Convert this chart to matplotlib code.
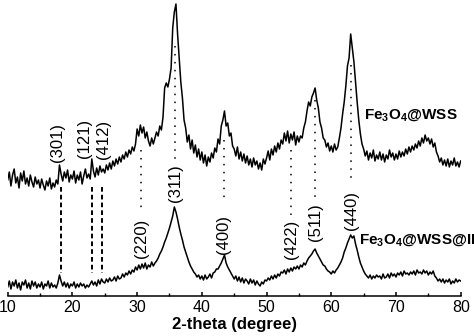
import matplotlib

matplotlib.use("Agg")
import matplotlib.pyplot as plt
import numpy as np

# 2-theta grid (degree), 0.25 step
two_theta = np.arange(10.0, 80.001, 0.25)

# intensities (arb. units), upper trace
fe3o4_wss = [
    116, 124, 110, 121, 127, 113, 119, 108, 123, 115,
    125, 112, 118, 110, 121, 114, 109, 119, 112, 116,
    108, 117, 111, 106, 115, 110, 118, 107, 113, 109,
    116, 112, 131, 122, 115, 124, 118, 126, 114, 121,
    117, 125, 113, 121, 116, 124, 112, 120, 127, 118,
    122, 117, 137, 125, 119, 128, 121, 130, 124, 127,
    123, 131, 126, 133, 127, 135, 130, 137, 132, 139,
    134, 141, 137, 144, 139, 146, 142, 149, 145, 152,
    167, 160, 171, 163, 169, 158, 164, 155, 150, 158,
    152, 158, 164, 160, 170, 166, 179, 208, 213, 209,
    217, 228, 268, 284, 292, 262, 238, 214, 198, 176,
    168, 154, 161, 147, 156, 143, 151, 139, 147, 136,
    144, 133, 141, 130, 139, 134, 143, 138, 148, 144,
    157, 152, 170, 176, 185, 170, 173, 160, 163, 150,
    147, 140, 149, 137, 144, 135, 142, 133, 140, 131,
    137, 129, 138, 131, 135, 127, 133, 126, 137, 132,
    138, 145, 136, 147, 141, 150, 144, 153, 147, 156,
    152, 163, 155, 165, 153, 162, 156, 164, 151, 160,
    154, 160, 158, 168, 174, 185, 194, 190, 199, 203,
    208, 196, 188, 174, 168, 158, 156, 149, 153, 145,
    150, 144, 152, 146, 149, 158, 168, 182, 194, 210,
    230, 238, 262, 248, 234, 214, 194, 176, 162, 152,
    147, 140, 145, 136, 143, 138, 146, 135, 141, 137,
    144, 136, 142, 134, 141, 137, 146, 139, 143, 136,
    142, 137, 145, 139, 144, 140, 147, 142, 149, 144,
    150, 146, 152, 148, 155, 150, 158, 153, 161, 155,
    158, 152, 157, 149, 153, 144, 140, 134, 138, 131,
    136, 130, 137, 129, 135, 131, 138, 130, 134, 129,
    135,
]

# lower trace
fe3o4_wss_coated = [
    9, 15, 7, 14, 10, 16, 8, 13, 6, 14,
    11, 16, 8, 13, 7, 15, 10, 14, 8, 12,
    9, 14, 7, 12, 10, 15, 8, 13, 9, 11,
    8, 13, 21, 15, 10, 14, 9, 13, 8, 12,
    10, 14, 8, 12, 9, 13, 10, 12, 8, 11,
    9, 12, 15, 11, 14, 10, 16, 12, 17, 14,
    13, 17, 14, 18, 15, 16, 19, 15, 20, 17,
    18, 22, 19, 23, 21, 25, 22, 26, 24, 29,
    26, 31, 27, 32, 28, 33, 27, 31, 29, 34,
    30, 33, 35, 38, 42, 45, 49, 54, 58, 63,
    68, 74, 80, 89, 84, 77, 69, 62, 56, 49,
    44, 39, 34, 30, 27, 24, 22, 19, 21, 17,
    20, 16, 21, 17, 19, 22, 18, 23, 24, 27,
    27, 30, 33, 37, 41, 33, 29, 26, 23, 20,
    17, 20, 15, 19, 14, 18, 13, 17, 15, 12,
    17, 13, 16, 11, 15, 12, 10, 14, 12, 16,
    15, 18, 16, 20, 17, 21, 18, 22, 20, 24,
    23, 26, 22, 27, 24, 28, 25, 29, 27, 30,
    27, 31, 29, 33, 31, 35, 38, 40, 42, 45,
    47, 43, 40, 37, 34, 31, 30, 27, 25, 24,
    22, 25, 23, 26, 28, 31, 34, 38, 44, 48,
    53, 57, 61, 58, 60, 52, 46, 39, 33, 29,
    25, 22, 20, 18, 21, 17, 20, 18, 21, 19,
    20, 17, 22, 18, 19, 22, 18, 23, 20, 22,
    19, 23, 21, 24, 20, 25, 22, 23, 21, 24,
    22, 25, 21, 26, 23, 24, 22, 26, 23, 25,
    21, 24, 22, 25, 20, 18, 15, 17, 14, 17,
    13, 16, 14, 17, 12, 15, 13, 17, 14, 16,
    15,
]

# impurity reflections (dashed)
dash_pos = [18.2, 23.0, 24.5]
dash_labels = ["(301)", "(121)", "(412)"]
dash_label_x = [17.7, 21.8, 24.8]
dash_label_y = [153, 158, 157]

# Fe3O4 reflections (dotted)
dot_pos = [30.6, 35.9, 43.4, 53.8, 57.5, 63.1]
dot_top = [146, 250, 156, 146, 196, 231]
dot_bottom = [84, 136, 94, 81, 99, 113]
dot_labels = ["(220)", "(311)", "(400)", "(422)", "(511)", "(440)"]
dot_label_y = [58, 113, 62, 57, 74, 86]

plt.rcParams["font.family"] = ["Liberation Sans", "DejaVu Sans"]
plt.rcParams["mathtext.fontset"] = "custom"
plt.rcParams["mathtext.rm"] = "Liberation Sans:bold"
plt.rcParams["mathtext.bf"] = "Liberation Sans:bold"
plt.rcParams["mathtext.it"] = "Liberation Sans:bold"

fig = plt.figure(figsize=(4.74, 3.36), dpi=100)
ax = fig.add_axes([7.7 / 474, 40 / 336, 453 / 474, 296 / 336])

ax.plot(two_theta, fe3o4_wss, color="black", lw=1.1)
ax.plot(two_theta, fe3o4_wss_coated, color="black", lw=1.1)

for x, lab, lx, ly in zip(dash_pos, dash_labels, dash_label_x, dash_label_y):
    ax.plot([x, x], [109, 23], color="black", lw=1.4, dashes=(2.4, 1.6))
    ax.text(lx, ly, lab, rotation=90, ha="center", va="center", fontsize=12)

for x, top, bot, lab, ly in zip(dot_pos, dot_top, dot_bottom, dot_labels, dot_label_y):
    ax.plot([x, x], [top, bot], color="black", lw=1.1, dashes=(1, 4.2))
    ax.text(x, ly, lab, rotation=90, ha="center", va="center", fontsize=12)

ax.text(65.0, 181, "Fe$_3$O$_4$@WSS", fontsize=11, fontweight="bold",
        ha="left", va="center")
# this label runs past the right edge in the reference too
ax.text(64.3, 56, "Fe$_3$O$_4$@WSS@IL", fontsize=11, fontweight="bold",
        ha="left", va="center")

ax.set_xlim(10, 80)
ax.set_ylim(0, 296)
for side in ["left", "right", "top"]:
    ax.spines[side].set_visible(False)
ax.spines["bottom"].set_linewidth(1.1)
ax.set_yticks([])
ax.set_xticks(np.arange(10, 81, 10))
ax.set_xticks(np.arange(15, 80, 10), minor=True)
ax.tick_params(axis="x", which="major", direction="in", length=3.2, width=1.1,
               labelsize=11.5, pad=3)
ax.tick_params(axis="x", which="minor", direction="in", length=2.2, width=1.0)
ax.set_xlabel("2-theta (degree)", fontsize=12, fontweight="bold", labelpad=1)

fig.savefig("out.png", dpi=100)
